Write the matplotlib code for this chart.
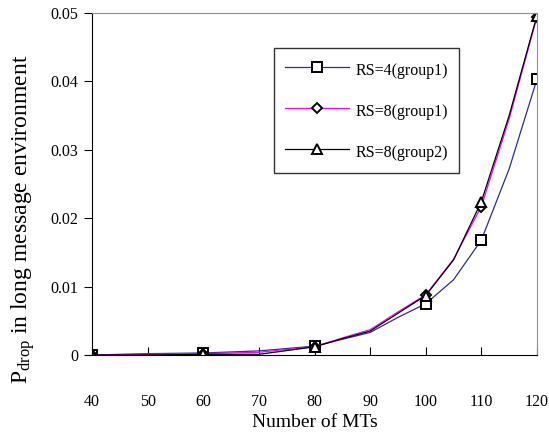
import numpy as np
import matplotlib
matplotlib.use("Agg")
import matplotlib.pyplot as plt
from matplotlib.ticker import FuncFormatter

plt.rcParams['font.family'] = ['Liberation Serif', 'DejaVu Serif']
plt.rcParams['mathtext.fontset'] = 'custom'
plt.rcParams['mathtext.rm'] = 'Liberation Serif'
plt.rcParams['mathtext.it'] = 'Liberation Serif:italic'

# data
mts = [40, 50, 60, 70, 80, 85, 90, 95, 100, 105, 110, 115, 120]
rs4_g1 = [0, 0.0002, 0.0003, 0.0006, 0.0013, 0.0023, 0.0033, 0.0055, 0.0075, 0.0110, 0.0168, 0.0272, 0.0403]
rs8_g1 = [0, 0.0001, 0.0002, 0.0004, 0.0012, 0.0025, 0.0037, 0.0063, 0.0088, 0.0140, 0.0217, 0.0345, 0.0494]
rs8_g2 = [0, 0.0000, 0.0001, 0.0001, 0.0012, 0.0024, 0.0035, 0.0061, 0.0087, 0.0139, 0.0224, 0.0350, 0.0496]
labels = ['RS=4(group1)', 'RS=8(group1)', 'RS=8(group2)']
marked = [0, 2, 4, 8, 10, 12]

fig = plt.figure(figsize=(5.49, 4.34), dpi=100)
ax = fig.add_axes([0.168, 0.182, 0.810, 0.788])

styles = [('#2b2ba0', 's', 7), ('#ff00ff', 'D', 5), ('black', '^', 7)]
for ys, lab, (col, mk, ms) in zip([rs4_g1, rs8_g1, rs8_g2], labels, styles):
    ax.plot(mts, ys, color=col, lw=0.9, marker=mk, markevery=marked, markersize=ms,
            markerfacecolor='white', markeredgecolor='black', markeredgewidth=1.4,
            label=lab)

ax.set_xlim(40, 120)
ax.set_ylim(0, 0.05)
ax.set_xticks(range(40, 121, 10))
ax.set_yticks([0, 0.01, 0.02, 0.03, 0.04, 0.05])
ax.yaxis.set_major_formatter(FuncFormatter(lambda v, p: '0' if v == 0 else '%g' % v))
ax.tick_params(axis='x', direction='in', length=6, pad=28, labelsize=11.5)
ax.tick_params(axis='y', direction='out', length=6, pad=4, labelsize=11.5)

ax.spines['top'].set_color('#909090')
ax.spines['right'].set_color('#909090')

ax.set_xlabel('Number of MTs', fontsize=14, labelpad=3)
ax.set_ylabel(r'P$_{\mathrm{drop}}$ in long message environment', fontsize=17)
ax.yaxis.set_label_coords(-0.124, 0.398)

leg = ax.legend(loc='upper left', bbox_to_anchor=(0.409, 0.898), borderaxespad=0,
                fontsize=11.5, frameon=True, fancybox=False, edgecolor='black',
                handlelength=4.0, handleheight=1.6, labelspacing=1.3,
                borderpad=0.7, handletextpad=0.4)
leg.get_frame().set_linewidth(1.0)

fig.savefig('out.png', dpi=100)
